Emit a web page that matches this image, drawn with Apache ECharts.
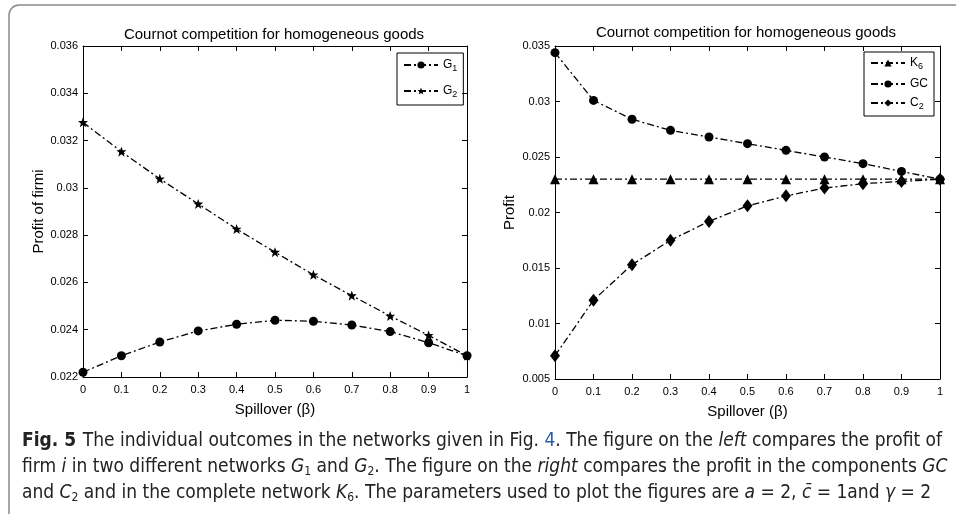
<!DOCTYPE html>
<html>
<head>
<meta charset="utf-8">
<script src="https://cdn.jsdelivr.net/npm/echarts@6/dist/echarts.min.js"></script>
<style>
html, body { margin: 0; padding: 0; background: #fff; }
#chart { width: 956px; height: 514px; }
</style>
</head>
<body>
<div id="chart"></div>
<script>
// spillover values on x
var beta = [0, 0.1, 0.2, 0.3, 0.4, 0.5, 0.6, 0.7, 0.8, 0.9, 1];

// left panel: profit of firm i
var g1 = [0.0222, 0.0229, 0.02348, 0.02395, 0.02423, 0.0244, 0.02436, 0.0242, 0.02392, 0.02345, 0.0229];
var g2 = [0.03277, 0.03153, 0.03038, 0.02932, 0.02826, 0.02728, 0.02632, 0.02544, 0.02458, 0.02376, 0.0229];

// right panel: profit in the networks
var k6 = [0.023, 0.023, 0.023, 0.023, 0.023, 0.023, 0.023, 0.023, 0.023, 0.023, 0.023];
var gc = [0.0344, 0.0301, 0.0284, 0.0274, 0.0268, 0.0262, 0.0256, 0.0250, 0.0244, 0.0237, 0.0230];
var c2 = [0.0071, 0.0121, 0.0153, 0.0175, 0.0192, 0.0206, 0.0215, 0.0222, 0.0226, 0.0228, 0.0230];

var leftTicks = [0.022, 0.036, 0.002];   // min, max, step
var rightTicks = [0.005, 0.035, 0.005];

function pairs(v) {
    var out = [];
    for (var i = 0; i < beta.length; i++) {
        out.push([beta[i], v[i]]);
    }
    return out;
}

var font = 'Liberation Sans, Arial, sans-serif';
var capFont = 'DejaVu Sans Condensed, Open Sans, sans-serif';
var dash = [7, 3, 2, 3];
var star = 'path://M0,-10 L2.5,-3 L9.5,-3 L4,1.5 L6,9 L0,4.5 L-6,9 L-4,1.5 L-9.5,-3 L-2.5,-3 Z';

function xAx(grid, pos) {
    return {
        type: 'value', gridIndex: grid, position: pos,
        min: 0, max: 1, interval: 0.1,
        name: pos === 'bottom' ? 'Spillover (\u03b2)' : '',
        nameLocation: 'middle', nameGap: 25,
        nameTextStyle: { fontFamily: font, fontSize: 15, color: '#000' },
        axisLine: { show: true, onZero: false, lineStyle: { color: '#000', width: 1 } },
        axisTick: { show: true, inside: true, length: 5, lineStyle: { color: '#000' } },
        axisLabel: {
            show: pos === 'bottom', color: '#000', fontFamily: font, fontSize: 11, margin: 7,
            formatter: function (v) { return String(Math.round(v * 10) / 10); }
        },
        splitLine: { show: false }
    };
}

function yAx(grid, pos, ticks, name, gap) {
    return {
        type: 'value', gridIndex: grid, position: pos,
        min: ticks[0], max: ticks[1], interval: ticks[2],
        name: pos === 'left' ? name : '',
        nameLocation: 'middle', nameGap: gap || 36,
        nameTextStyle: { fontFamily: font, fontSize: 15, color: '#000' },
        axisLine: { show: true, onZero: false, lineStyle: { color: '#000', width: 1 } },
        axisTick: { show: true, inside: true, length: 5, lineStyle: { color: '#000' } },
        axisLabel: {
            show: pos === 'left', color: '#000', fontFamily: font, fontSize: 11, margin: 5,
            formatter: function (v) { return String(Math.round(v * 1000) / 1000); }
        },
        splitLine: { show: false }
    };
}

function line(name, data, xi, yi, symbol, size) {
    return {
        name: name, type: 'line', xAxisIndex: xi, yAxisIndex: yi,
        data: pairs(data),
        symbol: symbol, symbolSize: size,
        itemStyle: { color: '#000' },
        lineStyle: { color: '#000', width: 1.3, type: dash },
        emphasis: { disabled: true },
        animation: false
    };
}

var legendRich = {
    n: { fontFamily: font, fontSize: 12, color: '#000' },
    s: { fontFamily: font, fontSize: 9, color: '#000', verticalAlign: 'bottom', padding: [7, 0, 0, 0] }
};

function legendFmt(name) {
    if (name === 'GC') return '{n|GC}';
    return '{n|' + name.charAt(0) + '}{s|' + name.slice(1) + '}';
}

function capText(top, text) {
    return {
        type: 'text', left: 22, top: top, silent: true,
        style: {
            text: text,
            rich: {
                b: { fontFamily: capFont, fontWeight: 'bold', fontSize: 19, fill: '#222' },
                t: { fontFamily: capFont, fontSize: 19, fill: '#222' },
                i: { fontFamily: capFont, fontStyle: 'italic', fontSize: 19, fill: '#222' },
                l: { fontFamily: capFont, fontSize: 19, fill: '#2a5db0' },
                s: { fontFamily: capFont, fontSize: 12, fill: '#222', verticalAlign: 'bottom', padding: [9, 0, 0, 0] }
            }
        }
    };
}

var option = {
    backgroundColor: '#fff',
    animation: false,
    title: [
        { text: 'Cournot competition for homogeneous goods', left: 269, top: 22, textAlign: 'center',
          textStyle: { fontFamily: font, fontSize: 15, fontWeight: 'normal', color: '#000' } },
        { text: 'Cournot competition for homogeneous goods', left: 741, top: 20, textAlign: 'center',
          textStyle: { fontFamily: font, fontSize: 15, fontWeight: 'normal', color: '#000' } }
    ],
    grid: [
        { left: 83, top: 46, width: 384, height: 331 },
        { left: 555, top: 46, width: 385, height: 333 }
    ],
    xAxis: [xAx(0, 'bottom'), xAx(0, 'top'), xAx(1, 'bottom'), xAx(1, 'top')],
    yAxis: [
        yAx(0, 'left', leftTicks, 'Profit of firmi', 33), yAx(0, 'right', leftTicks, ''),
        yAx(1, 'left', rightTicks, 'Profit', 38), yAx(1, 'right', rightTicks, '')
    ],
    legend: [
        { data: ['G1', 'G2'], left: 397, top: 53, width: 66, orient: 'vertical',
          itemWidth: 34, itemHeight: 9, itemGap: 12, padding: [6, 6, 6, 6],
          borderColor: '#000', borderWidth: 1, formatter: legendFmt,
          textStyle: { rich: legendRich }, selectedMode: false },
        { data: ['K6', 'GC', 'C2'], left: 864, top: 52, width: 73, orient: 'vertical',
          itemWidth: 34, itemHeight: 9, itemGap: 7, padding: [5, 6, 5, 6],
          borderColor: '#000', borderWidth: 1, formatter: legendFmt,
          textStyle: { rich: legendRich }, selectedMode: false }
    ],
    series: [
        line('G1', g1, 0, 0, 'circle', 9),
        line('G2', g2, 0, 0, star, 10),
        line('K6', k6, 2, 2, 'triangle', 10),
        line('GC', gc, 2, 2, 'circle', 9),
        line('C2', c2, 2, 2, 'diamond', [10, 13])
    ],
    graphic: [
        { type: 'rect', shape: { x: 9, y: 5, width: 980, height: 530, r: 10 }, silent: true,
          style: { fill: 'none', stroke: '#8a8a8a', lineWidth: 1.5 } },
        capText(432, '{b|Fig. 5}  {t|The individual outcomes in the networks given in Fig. }{l|4}{t|. The figure on the }{i|left}{t| compares the profit of}'),
        capText(458, '{t|firm }{i|i}{t| in two different networks }{i|G}{s|1}{t| and }{i|G}{s|2}{t|. The figure on the }{i|right}{t| compares the profit in the components }{i|GC}'),
        capText(484, '{t|and }{i|C}{s|2}{t| and in the complete network }{i|K}{s|6}{t|. The parameters used to plot the figures are }{i|a}{t| = 2, }{i|c\u0304}{t| = 1and }{i|\u03b3}{t| = 2}')
    ]
};

var myChart = echarts.init(document.getElementById('chart'));
myChart.setOption(option);
</script>
</body>
</html>
